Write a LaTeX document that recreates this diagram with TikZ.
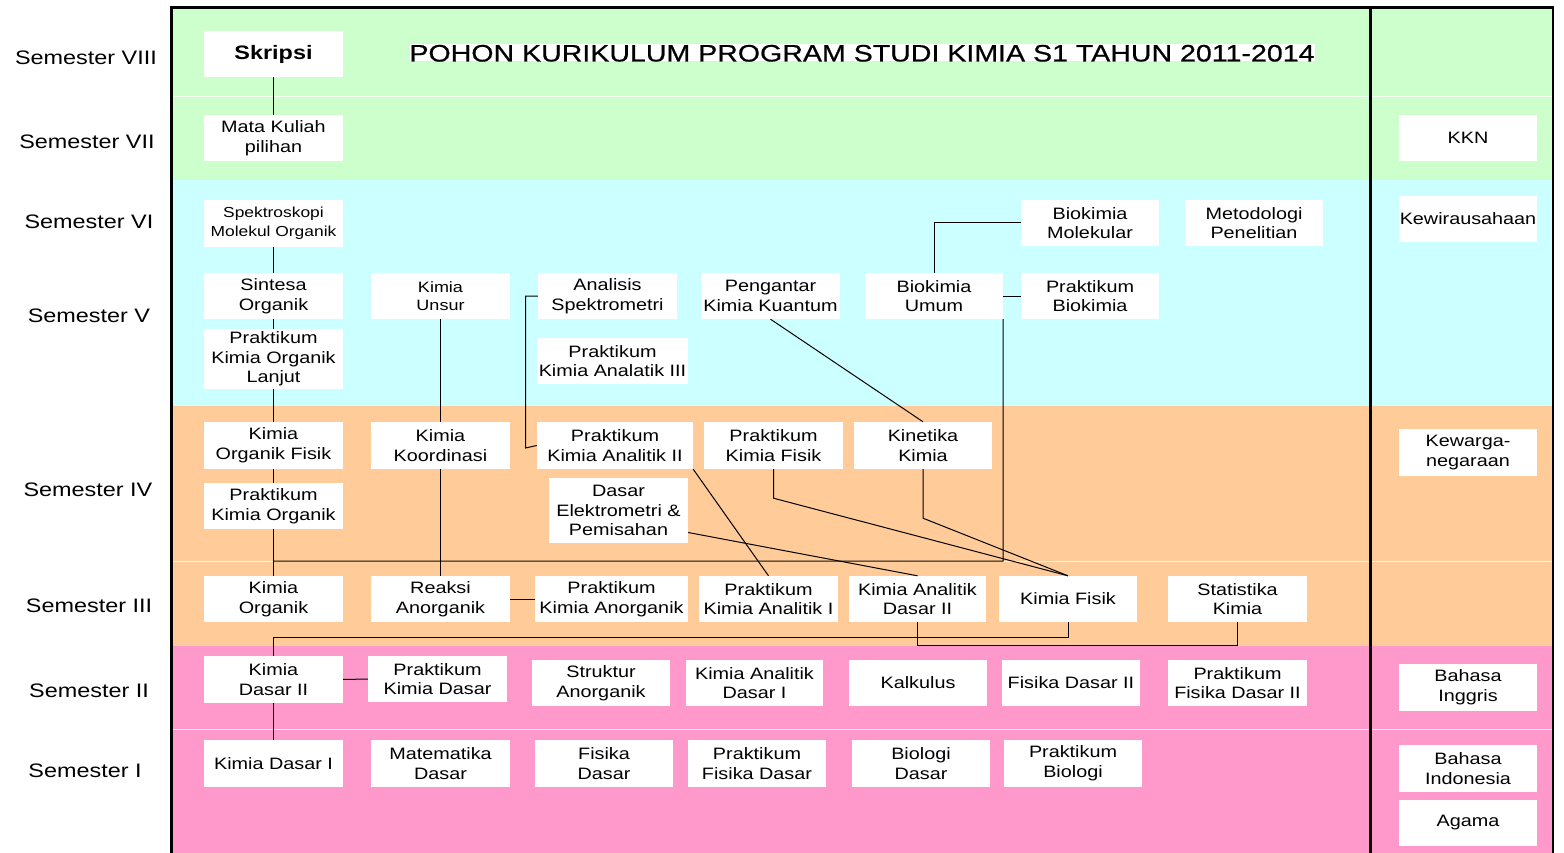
\documentclass[tikz,border=0pt]{standalone}
\usepackage{fontspec}
\setmainfont{Liberation Sans}[FakeStretch=1.2]
\newfontfamily\titlefont{Liberation Sans}[FakeStretch=1.2,FakeBold=0.6]
\definecolor{bgreen}{HTML}{CCFFCC}
\definecolor{bcyan}{HTML}{CCFFFF}
\definecolor{borange}{HTML}{FFCC99}
\definecolor{bpink}{HTML}{FF99CC}
\tikzset{
  box/.style={fill=white, draw=none, inner sep=0pt, align=center, text=black,
    font=\fontsize{16.5}{19.7}\selectfont},
  conn/.style={draw=black, line width=1pt},
  sem/.style={font=\fontsize{19.5}{22}\selectfont, text=black},
  sepline/.style={draw=white, line width=1.2pt, opacity=0.8},
  frameline/.style={draw=black, line width=2.5pt}
}
\newcommand{\cb}[7][]{\node[box,#1,minimum width={(#4)-(#3)},minimum height={(#6)-(#5)}] (#2) at ({((#3)+(#4))/2},{((#5)+(#6))/2}) {#7};}
\begin{document}
\begin{tikzpicture}[x=1pt,y=-1pt]
\useasboundingbox[fill=white] (0,0) rectangle (1564,853);
% bands
\fill[bgreen] (172,8) rectangle (1553,180);
\fill[bcyan] (172,180) rectangle (1553,406);
\fill[borange] (172,406) rectangle (1553,646);
\fill[bpink] (172,646) rectangle (1553,853);
\draw[sepline] (172,96.5) -- (1553,96.5);
\draw[sepline] (172,561.5) -- (1553,561.5);
\draw[sepline] (172,729.5) -- (1553,729.5);
% frame
\draw[frameline] (171.5,853) -- (171.5,7.5) -- (1553,7.5) -- (1553,853);
\draw[frameline] (1370.5,7.5) -- (1370.5,853);
% semester labels
\node[sem] (s8) at (86,57.5) {Semester VIII};
\node[sem] (s7) at (87,142) {Semester VII};
\node[sem] (s6) at (89,222) {Semester VI};
\node[sem] (s5) at (89,316) {Semester V};
\node[sem] (s4) at (88,490) {Semester IV};
\node[sem] (s3) at (89,606) {Semester III};
\node[sem] (s2) at (89,691) {Semester II};
\node[sem] (s1) at (85,771) {Semester I};
% title
\fill[white] (410,44) rectangle (1315,61.5);
\node[anchor=base, inner sep=0pt, font=\titlefont\fontsize{23.8}{26}\selectfont] (ttl) at (862,61.5) {POHON KURIKULUM PROGRAM STUDI KIMIA S1 TAHUN 2011-2014};
% boxes
\cb[font=\bfseries\fontsize{19.5}{22}\selectfont]{skr}{204}{343}{31}{77}{Skripsi}
\cb{mkp}{204}{343}{115}{161}{Mata Kuliah\\pilihan}
\cb[font=\fontsize{14.5}{19.5}\selectfont]{smo}{204}{343}{200}{247}{Spektroskopi\\Molekul Organik}
\cb{so}{204}{343}{273}{319}{Sintesa\\Organik}
\cb{pkol}{204}{343}{329}{389}{Praktikum\\Kimia Organik\\Lanjut}
\cb{kof}{204}{343}{422}{469}{Kimia\\Organik Fisik}
\cb{pko}{204}{343}{483}{529}{Praktikum\\Kimia Organik}
\cb{kor}{204}{343}{576}{622}{Kimia\\Organik}
\cb{kd2}{204}{343}{656}{703}{Kimia\\Dasar II}
\cb{kd1}{204}{343}{740}{787}{Kimia Dasar I}
\cb[font=\fontsize{15}{18}\selectfont]{ku}{371}{510}{273}{319}{Kimia\\Unsur}
\cb{kko}{371}{510}{422}{469}{Kimia\\Koordinasi}
\cb{ra}{371}{510}{576}{622}{Reaksi\\Anorganik}
\cb{pkd}{368}{507}{656}{702}{Praktikum\\Kimia Dasar}
\cb{md}{371}{510}{740}{787}{Matematika\\Dasar}
\cb{as}{538}{677}{273}{319}{Analisis\\Spektrometri}
\cb{pka3}{537}{688}{338}{384}{Praktikum\\Kimia Analatik III}
\cb{pka2}{537}{693}{422}{469}{Praktikum\\Kimia Analitik II}
\cb{de}{549}{688}{478}{543}{Dasar\\Elektrometri \&\\Pemisahan}
\cb{pkan}{535}{688}{576}{622}{Praktikum\\Kimia Anorganik}
\cb{sa}{532}{670}{660}{706}{Struktur\\Anorganik}
\cb{fd}{535}{673}{740}{787}{Fisika\\Dasar}
\cb{pkk}{701}{840}{273}{319}{Pengantar\\Kimia Kuantum}
\cb{pkf}{704}{843}{422}{469}{Praktikum\\Kimia Fisik}
\cb{pka1}{699}{838}{576}{622}{Praktikum\\Kimia Analitik I}
\cb{kad1}{686}{823}{660}{706}{Kimia Analitik\\Dasar I}
\cb{pfd}{688}{826}{740}{787}{Praktikum\\Fisika Dasar}
\cb{bu}{865}{1003}{273}{319}{Biokimia\\Umum}
\cb{kk}{854}{992}{422}{469}{Kinetika\\Kimia}
\cb{kad2}{849}{986}{576}{622}{Kimia Analitik\\Dasar II}
\cb{kal}{849}{987}{660}{706}{Kalkulus}
\cb{bd}{852}{990}{740}{787}{Biologi\\Dasar}
\cb{bm}{1021}{1159}{200}{246}{Biokimia\\Molekular}
\cb{pb}{1021}{1159}{273}{319}{Praktikum\\Biokimia}
\cb{kf}{999}{1137}{576}{622}{Kimia Fisik}
\cb{fd2}{1002}{1140}{660}{706}{Fisika Dasar II}
\cb{pbio}{1004}{1142}{740}{787}{Praktikum\\Biologi}
\cb{mp}{1185}{1323}{200}{246}{Metodologi\\Penelitian}
\cb{sk}{1168}{1307}{576}{622}{Statistika\\Kimia}
\cb{pfd2}{1168}{1307}{660}{706}{Praktikum\\Fisika Dasar II}
\cb{kkn}{1399}{1537}{115}{161}{KKN}
\cb{kw}{1399}{1537}{196}{242}{Kewirausahaan}
\cb{kn}{1399}{1537}{429}{476}{Kewarga-\\negaraan}
\cb{bi}{1399}{1537}{664}{711}{Bahasa\\Inggris}
\cb{bin}{1399}{1537}{745}{792}{Bahasa\\Indonesia}
\cb{ag}{1399}{1537}{800}{846}{Agama}
% connectors
\draw[conn] (skr.south) -- (mkp.north);
\draw[conn] (smo.south) -- (so.north);
\draw[conn] (so.south) -- (pkol.north);
\draw[conn] (pkol.south) -- (kof.north);
\draw[conn] (kof.south) -- (pko.north);
\draw[conn] (pko.south) -- (kor.north);
\coordinate (j1) at (1003,561);
\draw[conn] (bu.south east) -- (j1) -- (j1 -| pko.south);
\draw[conn] (ku.south) -- (kko.north);
\draw[conn] (kko.south) -- (ra.north);
\coordinate (c1) at (525.5,448);
\draw[conn] (as.west) -| (c1) -- (pka2.west);
\draw[conn] (ra.east) -- (pkan.west);
\draw[conn] (pka2.south east) -- (pka1.north);
\draw[conn] (pkk.south) -- (kk.north);
\draw[conn] (bm.west) -| (bu.north);
\draw[conn] (bu.east) -- (pb.west);
\draw[conn] (kk.south) -- ++(0,49) -- (kf.north);
\draw[conn] (pkf.south) -- ++(0,29) -- (kf.north);
\draw[conn] ([yshift=-22pt]de.east) -- (kad2.north);
\draw[conn] (kad2.south) -- ++(0,23.5) -| (sk.south);
\draw[conn] (kf.south) -- ++(0,15) -| (kd2.north);
\draw[conn] (kd2.east) -- (pkd.west);
\draw[conn] (kd2.south) -- (kd1.north);
\end{tikzpicture}
\end{document}
